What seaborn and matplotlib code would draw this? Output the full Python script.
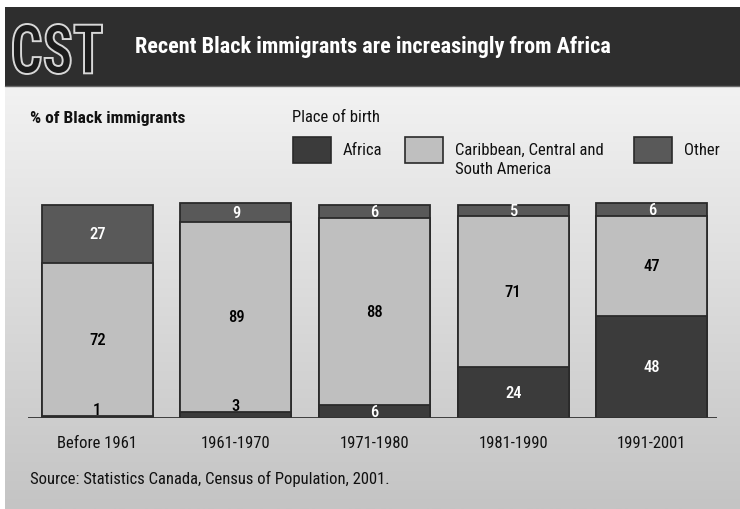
import numpy as np
import pandas as pd
import matplotlib
matplotlib.use("Agg")
import matplotlib.pyplot as plt
import seaborn as sns
from matplotlib.colors import LinearSegmentedColormap
from matplotlib.textpath import TextPath
from matplotlib.patches import PathPatch, Rectangle
from matplotlib.font_manager import FontProperties
from matplotlib.transforms import Affine2D

# data
periods = ["Before 1961", "1961-1970", "1971-1980", "1981-1990", "1991-2001"]
africa = [1, 3, 6, 24, 48]
caribbean = [72, 89, 88, 71, 47]
other = [27, 9, 6, 5, 6]

c_africa = "#3b3b3b"
c_carib = "#bfbfbf"
c_other = "#595959"
edge = "#2a2a2a"

sns.set_theme(style="white")
plt.rcParams["font.family"] = ["Roboto Condensed", "DejaVu Sans"]
txt_col = "#111111"
fs = 12

fig = plt.figure(figsize=(7.4, 5.1), dpi=100)
fig.patch.set_facecolor("white")

# background in pixel coordinates
bg = fig.add_axes([0, 0, 1, 1])
bg.set_xlim(0, 740)
bg.set_ylim(510, 0)
bg.axis("off")

grad = LinearSegmentedColormap.from_list("g", ["#f2f2f2", "#c4c4c4"])
bg.imshow(np.linspace(0, 1, 256).reshape(-1, 1), cmap=grad, extent=[5, 740, 510, 87],
          aspect="auto", zorder=0)
bg.add_patch(Rectangle((5, 8), 735, 79, facecolor="#2e2e2e", edgecolor="none", zorder=1))
bg.plot([5, 740], [87, 87], color="#6a6a6a", lw=1, zorder=2)

# CST logo (outlined, condensed)
tp = TextPath((0, 0), "CST", size=100, prop=FontProperties(family="Roboto Condensed", weight="bold"))
ext = tp.get_extents()
sx = (102 - 13) / ext.width
sy = (75 - 25) / ext.height
tr = Affine2D().translate(-ext.x0, -ext.y0).scale(sx, -sy).translate(13, 75)
bg.add_patch(PathPatch(tr.transform_path(tp), facecolor="#1c1c1c", edgecolor="#d8d8d8",
                       lw=1.4, zorder=3))

bg.text(135, 47, "Recent Black immigrants are increasingly from Africa", color="white",
        fontsize=16, fontweight="bold", va="center", ha="left", zorder=3)

bg.text(30, 118, "% of Black immigrants", fontsize=12.5, fontweight="bold", va="center",
        color=txt_col)
bg.text(292, 117, "Place of birth", fontsize=fs, va="center", color=txt_col)

# legend
for x0, col, lab in [(293, c_africa, "Africa"), (405, c_carib, "Caribbean, Central and\nSouth America"),
                     (634, c_other, "Other")]:
    bg.add_patch(Rectangle((x0, 138), 38, 26, facecolor=col, edgecolor=edge, lw=1.2, zorder=3))
    bg.text(x0 + 50, 143, lab, fontsize=fs, va="top", ha="left", linespacing=1.3, color=txt_col)

bg.text(30, 479, "Source: Statistics Canada, Census of Population, 2001.", fontsize=fs,
        va="center", color=txt_col)

# bar chart
df = pd.DataFrame({"period": periods, "africa": africa, "caribbean": caribbean, "other": other})
df["mid"] = df["africa"] + df["caribbean"]
df["total"] = df["mid"] + df["other"]

ax = fig.add_axes([28 / 740, (510 - 419) / 510, (717 - 28) / 740, 105 * 2.13 / 510])
ax.patch.set_alpha(0)
for col, c in [("total", c_other), ("mid", c_carib), ("africa", c_africa)]:
    sns.barplot(data=df, x="period", y=col, color=c, edgecolor=edge, linewidth=1.3,
                width=0.8, saturation=1, ax=ax, zorder=2)
ax.set_xlim(-0.5, 4.47)
ax.set_ylim(0, 105)
ax.axhline(0, color="#333333", lw=1.3, zorder=3)
for s in ax.spines.values():
    s.set_visible(False)
ax.set_yticks([])
ax.set_xlabel("")
ax.set_ylabel("")
ax.tick_params(axis="x", length=0, pad=12, labelsize=fs, labelcolor=txt_col)

kw = dict(ha="center", va="center", fontsize=fs, fontweight="medium", zorder=4)
for i, r in df.iterrows():
    if r["africa"] < 5:
        ax.text(i, r["africa"] + 3, str(r["africa"]), color="black", **kw)
    else:
        ax.text(i, r["africa"] / 2, str(r["africa"]), color="white", **kw)
    ax.text(i, r["africa"] + r["caribbean"] / 2, str(r["caribbean"]), color="black", **kw)
    ax.text(i, r["mid"] + r["other"] / 2, str(r["other"]), color="white", **kw)

fig.savefig("out.png", dpi=100)
